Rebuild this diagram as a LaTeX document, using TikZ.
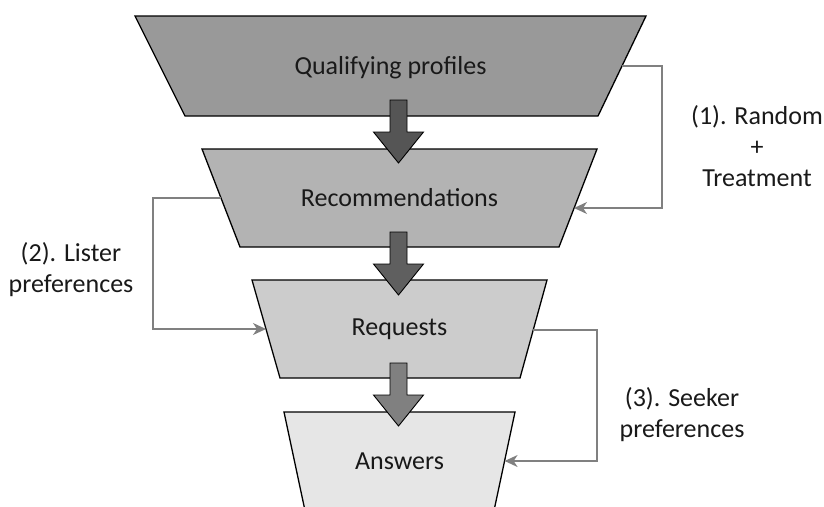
\documentclass[tikz,border=0pt]{standalone}
\usepackage{fontspec}
\setmainfont{Carlito}
\usetikzlibrary{arrows.meta}

\definecolor{stageA}{HTML}{999999}
\definecolor{stageB}{HTML}{B3B3B3}
\definecolor{stageC}{HTML}{CCCCCC}
\definecolor{stageD}{HTML}{E6E6E6}
\definecolor{flowA}{HTML}{555555}
\definecolor{flowB}{HTML}{5F5F5F}
\definecolor{flowC}{HTML}{808080}
\definecolor{linkgray}{HTML}{808080}

\tikzset{
  stage/.style={draw=black, line width=1.3pt, line join=miter},
  stagetext/.style={font=\fontsize{26}{31}\selectfont, text=black!90, inner sep=0pt},
  blockarrow/.style={draw=black, line width=0.9pt},
  link/.style={draw=linkgray, line width=1.5pt,
    -{Stealth[length=13pt, width=12pt, inset=4pt]}},
  note/.style={align=center, font=\fontsize{26}{31}\selectfont, text=black!90, inner sep=0pt}
}

\begin{document}
\begin{tikzpicture}[x=1pt, y=-1pt]
\useasboundingbox (0,0) rectangle (824,506);

% funnel stages (inverted trapezia)
\filldraw[stage, fill=stageA] (135,16) -- (646,16) -- (598,116) -- (185,116) -- cycle;
\filldraw[stage, fill=stageB] (202,149) -- (597,149) -- (559,247) -- (240,247) -- cycle;
\filldraw[stage, fill=stageC] (252,280) -- (547,280) -- (520,378) -- (280,378) -- cycle;
\filldraw[stage, fill=stageD] (284,412) -- (515,412) -- (493.7,512) -- (305.3,512) -- cycle;

\node[stagetext] (qual) at (390.5,68) {Qualifying profiles};
\node[stagetext] (rec) at (399.5,198) {Recommendations};
\node[stagetext] (req) at (399.5,329) {Requests};
\node[stagetext] (ans) at (399.5,461) {Answers};

% points on the slanted sides where the feedback lines meet them
\coordinate (qual-r) at (622,66);
\coordinate (rec-l) at (221,198);
\coordinate (rec-r) at (574,208);
\coordinate (req-l) at (266,329);
\coordinate (req-r) at (533,330);
\coordinate (ans-r) at (504.6,461);

% block arrows between stages
\foreach \ytop/\col in {100/flowA, 232/flowB, 363/flowC}{
  \filldraw[blockarrow, fill=\col]
    (390,\ytop) -- (407,\ytop) -- (407,\ytop+32) -- (423.5,\ytop+32)
    -- (398.5,\ytop+63) -- (373.5,\ytop+32) -- (390,\ytop+32) -- cycle;
}

% feedback connectors
\draw[link] (qual-r) -- ++(40,0) |- (rec-r);
\draw[link] (rec-l) -- ++(-68,0) |- (req-l);
\draw[link] (req-r) -- ++(64,0) |- (ans-r);

% labels
\node[note] (lab1) at (757,146) {(1). Random\\+\\Treatment};
\node[note] (lab2) at (71,270) {(2). Lister\\preferences};
\node[note] (lab3) at (682,415) {(3). Seeker\\preferences};
\end{tikzpicture}
\end{document}
